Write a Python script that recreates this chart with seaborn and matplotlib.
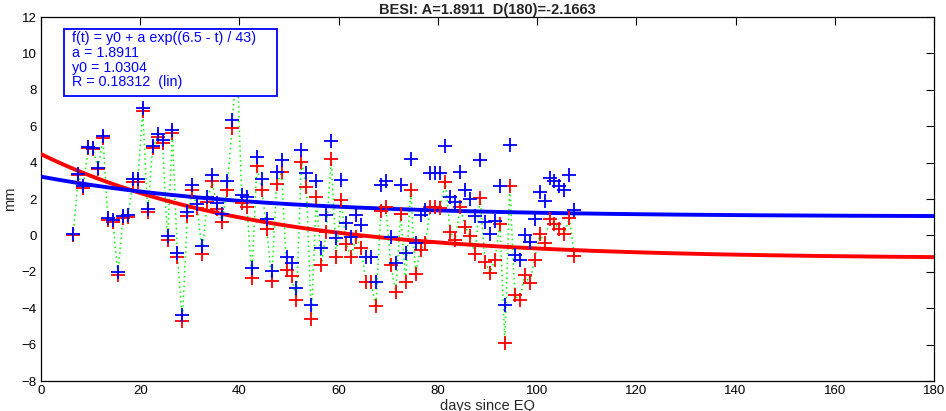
import numpy as np
import pandas as pd
import matplotlib
matplotlib.use("Agg")
import matplotlib.pyplot as plt
from matplotlib.patches import Rectangle
import seaborn as sns

# ---------------- data ----------------
days = [6.5, 7.5, 8.5, 9.5, 10.5, 11.5, 12.5, 13.5, 14.5, 15.5,
        16.5, 17.5, 18.5, 19.5, 20.5, 21.5, 22.5, 23.5, 24.5, 25.5,
        26.5, 27.5, 28.5, 29.5, 30.5, 31.5, 32.5, 33.5, 34.5, 35.5,
        36.5, 37.5, 38.5, 39.5, 40.5, 41.5, 42.5, 43.5, 44.5, 45.5,
        46.5, 47.5, 48.5, 49.5, 50.5, 51.5, 52.5, 53.5, 54.5, 55.5,
        56.5, 57.5, 58.5, 59.5, 60.5, 61.5, 62.5, 63.5, 64.5, 65.5,
        66.5, 67.5, 68.5, 69.5, 70.5, 71.5, 72.5, 73.5, 74.5, 75.5,
        76.5, 77.5, 78.5, 79.5, 80.5, 81.5, 82.5, 83.5, 84.5, 85.5,
        86.5, 87.5, 88.5, 89.5, 90.5, 91.5, 92.5, 93.5, 94.5, 95.5,
        96.5, 97.5, 98.5, 99.5, 100.5, 101.5, 102.5, 103.5, 104.5, 105.5,
        106.5, 107.5]

blue_mm = [0.05, 3.38, 2.70, 4.87, 4.82, 3.70, 5.45, 0.94, 0.85, -2.00,
           1.07, 1.14, 3.08, 3.08, 6.98, 1.43, 4.92, 5.55, 5.22, -0.05,
           5.80, -0.98, -4.40, 1.30, 2.75, 1.72, -0.60, 2.12, 3.30, 1.76,
           1.20, 3.00, 6.34, 10.30, 2.20, 2.13, -1.81, 4.32, 3.10, 0.89,
           -1.94, 3.47, 4.12, -1.17, -1.53, -2.87, 4.70, 3.45, -3.80, 3.00,
           -0.71, 1.10, 5.20, -0.16, 3.04, 0.70, -0.07, 1.12, 0.57, -1.17,
           -1.17, -2.54, 2.77, 2.99, -0.07, -1.53, 2.77, -0.95, 4.18, -0.40,
           1.10, 1.40, 3.45, 3.45, 3.45, 4.90, 2.13, 1.85, 3.47, 2.47,
           2.00, 1.05, 4.12, 0.73, 0.10, 0.80, 2.74, -3.80, 4.97, -1.05,
           -1.33, 0.02, -0.34, 0.90, 2.38, 1.87, 3.15, 2.97, 2.74, 2.52,
           3.32, 1.37]

red_mm = [0.00, 3.30, 2.60, 4.80, 4.75, 3.65, 5.35, 0.85, 0.75, -2.15,
          0.95, 1.00, 2.95, 2.95, 6.85, 1.30, 4.80, 5.40, 5.05, -0.25,
          5.60, -1.17, -4.70, 1.07, 2.49, 1.50, -1.03, 1.85, 3.00, 1.45,
          0.75, 2.50, 5.88, 9.80, 1.76, 1.58, -2.32, 3.80, 2.50, 0.37,
          -2.50, 2.82, 3.48, -1.92, -2.25, -3.57, 4.05, 2.66, -4.60, 2.13,
          -1.64, 0.16, 4.18, -1.17, 1.95, -0.48, -1.20, -0.07, -0.71, -2.54,
          -2.54, -3.90, 1.33, 1.56, -1.65, -3.09, 1.20, -2.54, 2.48, -2.10,
          -0.78, -0.40, 1.58, 1.58, 1.52, 2.95, 0.18, -0.25, 1.56, 0.48,
          -0.05, -1.03, 2.04, -1.44, -2.05, -1.35, 0.62, -5.90, 2.74, -3.30,
          -3.55, -2.20, -2.60, -1.35, 0.10, -0.40, 0.88, 0.63, 0.34, 0.08,
          0.98, -1.12]

# fit parameters (text of the legend box)
fit_a = 1.8911
fit_y0 = 1.0304
fit_t0 = 6.5
fit_tau = 43.0
red_a = 4.94
red_y0 = -1.28

title_text = "BESI: A=1.8911  D(180)=-2.1663"
legend_lines = ["f(t) = y0 + a exp((6.5 - t) / 43)",
                "a = 1.8911",
                "y0 = 1.0304",
                "R = 0.18312  (lin)"]

x_ticks = [0, 20, 40, 60, 80, 100, 120, 140, 160, 180]
y_ticks = [-8, -6, -4, -2, 0, 2, 4, 6, 8, 10, 12]

# ---------------- style ----------------
sns.set_theme(style="white")
plt.rcParams["font.family"] = ["Liberation Sans", "DejaVu Sans"]

df = pd.DataFrame({"t": days, "blue": blue_mm, "red": red_mm})
tt = np.linspace(0, 180, 400)
curves = pd.DataFrame({
    "t": tt,
    "blue_fit": fit_y0 + fit_a * np.exp((fit_t0 - tt) / fit_tau),
    "red_fit": red_y0 + red_a * np.exp((fit_t0 - tt) / fit_tau),
})

fig = plt.figure(figsize=(9.46, 4.11), dpi=100)
ax = fig.add_axes([41 / 946, 1 - 381 / 411, 893 / 946, 364 / 411])

# green dotted connection of the red series
sns.lineplot(data=df, x="t", y="red", sort=False, estimator=None, ax=ax,
             color=(0.0, 1.0, 0.0), linestyle=(0, (1, 2.2)), linewidth=1.1,
             zorder=2)

# fitted curves
sns.lineplot(data=curves, x="t", y="red_fit", ax=ax, color="#ff0000",
             linewidth=2.8, zorder=3)
sns.lineplot(data=curves, x="t", y="blue_fit", ax=ax, color="#0000ff",
             linewidth=2.8, zorder=3)

# crosses
sns.scatterplot(data=df, x="t", y="red", ax=ax, marker="+", s=95,
                color="#ff0000", linewidth=1.3, zorder=4)
sns.scatterplot(data=df, x="t", y="blue", ax=ax, marker="+", s=95,
                color="#0000ff", linewidth=1.3, zorder=5)

ax.set_xlim(0, 180)
ax.set_ylim(-8, 12)
ax.set_xticks(x_ticks)
ax.set_yticks(y_ticks)
ax.tick_params(direction="in", length=6, width=0.8, top=True, right=True,
               labelsize=9.5, colors="black", pad=3)
for sp in ax.spines.values():
    sp.set_visible(True)
    sp.set_color("black")
    sp.set_linewidth(0.9)

ax.set_xlabel("days since EQ", fontsize=10.5, labelpad=1)
ax.set_ylabel("mm", fontsize=10.5, labelpad=3)
ax.set_title(title_text, fontsize=10.5, fontweight="bold", pad=2)

# legend-like text box
bx0, bx1 = 0.0262, 0.2640
by0, by1 = 0.783, 0.967
ax.add_patch(Rectangle((bx0, by0), bx1 - bx0, by1 - by0, transform=ax.transAxes,
                       facecolor="white", edgecolor="#0000ff", linewidth=1.3,
                       zorder=10))
line_y = [0.942, 0.902, 0.861, 0.822]
for s, yy in zip(legend_lines, line_y):
    ax.text(0.0345, yy, s, transform=ax.transAxes, color="#0000ff",
            fontsize=10.3, va="center", ha="left", zorder=11)

fig.savefig("out.png", dpi=100)
